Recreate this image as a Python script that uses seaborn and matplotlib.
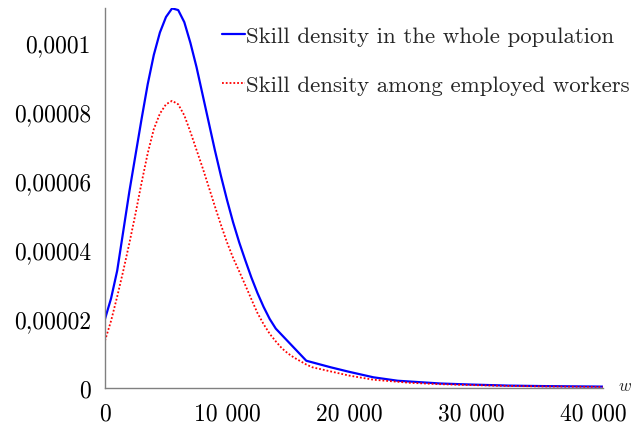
import numpy as np
import pandas as pd
import matplotlib
matplotlib.use("Agg")
import matplotlib.pyplot as plt
import seaborn as sns
from matplotlib.ticker import FixedLocator, FixedFormatter

# ---- data ----
skill_all = [0, 500, 1000, 1500, 2000, 2500, 3000, 3500, 4000, 4500, 5000,
             5500, 6000, 6500, 7000, 7500, 8000, 8500, 9000, 9500, 10000,
             10500, 11000, 11500, 12000, 12500, 13000, 13500, 14000, 16500,
             18500, 20000, 22000, 24000, 27500, 30000, 33000, 36000, 40800]
density_all = [2.0e-5, 2.6e-5, 3.4e-5, 4.55e-5, 5.7e-5, 6.75e-5, 7.8e-5,
               8.8e-5, 9.65e-5, 1.03e-4, 1.075e-4, 1.10e-4, 1.095e-4,
               1.06e-4, 1.0e-4, 9.3e-5, 8.5e-5, 7.7e-5, 6.9e-5, 6.15e-5,
               5.45e-5, 4.8e-5, 4.22e-5, 3.7e-5, 3.2e-5, 2.75e-5, 2.35e-5,
               2.0e-5, 1.72e-5, 7.9e-6, 6.0e-6, 4.7e-6, 3.1e-6, 2.1e-6,
               1.3e-6, 1.0e-6, 0.7e-6, 0.55e-6, 0.4e-6]
skill_employed = [0, 500, 1000, 1500, 2000, 2500, 3000, 3500, 4000, 4500,
                  5000, 5500, 6000, 6500, 7000, 7500, 8000, 8500, 9000, 9500,
                  10000, 10500, 11000, 11500, 12000, 12500, 13000, 13500,
                  14000, 14500, 15000, 15500, 16500, 17000, 18500, 20000,
                  22000, 25000, 27500, 30000, 33000, 36000, 40800]
density_employed = [1.37e-5, 1.95e-5, 2.65e-5, 3.4e-5, 4.2e-5, 5.05e-5,
                    5.95e-5, 6.8e-5, 7.5e-5, 7.95e-5, 8.22e-5, 8.32e-5,
                    8.22e-5, 7.9e-5, 7.42e-5, 6.9e-5, 6.38e-5, 5.83e-5,
                    5.27e-5, 4.73e-5, 4.22e-5, 3.77e-5, 3.38e-5, 2.98e-5,
                    2.57e-5, 2.17e-5, 1.85e-5, 1.57e-5, 1.35e-5, 1.15e-5,
                    1.0e-5, 8.8e-6, 6.8e-6, 6.0e-6, 4.8e-6, 3.6e-6, 2.4e-6,
                    1.5e-6, 1.1e-6, 0.85e-6, 0.6e-6, 0.45e-6, 0.3e-6]
labels = ["Skill density in the whole population",
          "Skill density among employed workers"]
xticks = [0, 10000, 20000, 30000, 40000]
xtick_labels = ["0", "10 000", "20 000", "30 000", "40 000"]
yticks = [0, 0.00002, 0.00004, 0.00006, 0.00008, 0.0001]
ytick_labels = ["0", "0,00002", "0,00004", "0,00006", "0,00008", "0,0001"]
xlabel = "$w$"

# ---- style ----
sns.set_style("white")
plt.rcParams["font.family"] = ["cmr10", "DejaVu Serif"]
plt.rcParams["mathtext.fontset"] = "cm"
plt.rcParams["axes.unicode_minus"] = False
FS_TICK = 17
FS_LEG = 16.5

fig = plt.figure(figsize=(6.33, 4.27), dpi=100)
ax = fig.add_axes([105 / 633, 38 / 427, (603 - 105) / 633, (389 - 9) / 427])

sns.lineplot(x=skill_all, y=density_all, ax=ax, color="#0000ff", lw=1.6,
             label=labels[0], sort=False)
sns.lineplot(x=skill_employed, y=density_employed, ax=ax, color="#ff0000",
             lw=1.3, linestyle=(0, (1, 1.1)), label=labels[1], sort=False)

ax.set_xlim(0, 40820)
ax.set_ylim(0, 1.101e-4)
ax.xaxis.set_major_locator(FixedLocator(xticks))
ax.xaxis.set_major_formatter(FixedFormatter(xtick_labels))
ax.yaxis.set_major_locator(FixedLocator(yticks))
ax.yaxis.set_major_formatter(FixedFormatter(ytick_labels))
ax.tick_params(axis="both", which="major", direction="out", length=5,
               width=0.8, color="#808080", labelsize=FS_TICK,
               labelcolor="black")
ax.tick_params(axis="x", pad=5)
ax.tick_params(axis="y", pad=5)
for side in ["top", "right"]:
    ax.spines[side].set_visible(False)
for side in ["left", "bottom"]:
    ax.spines[side].set_color("#808080")
    ax.spines[side].set_linewidth(1.0)
ax.set_xlabel("")
ax.set_ylabel("")
ax.text(1.031, 0.008, xlabel, transform=ax.transAxes, fontsize=12.5,
        ha="left", va="center")

ax.legend(loc="upper left", bbox_to_anchor=((222 - 105) / 498, (389 - 27) / 380),
          frameon=False, fontsize=FS_LEG, handlelength=1.0,
          handletextpad=0.05, labelspacing=1.26, borderpad=0,
          borderaxespad=0)

fig.savefig("out.png", dpi=100)
